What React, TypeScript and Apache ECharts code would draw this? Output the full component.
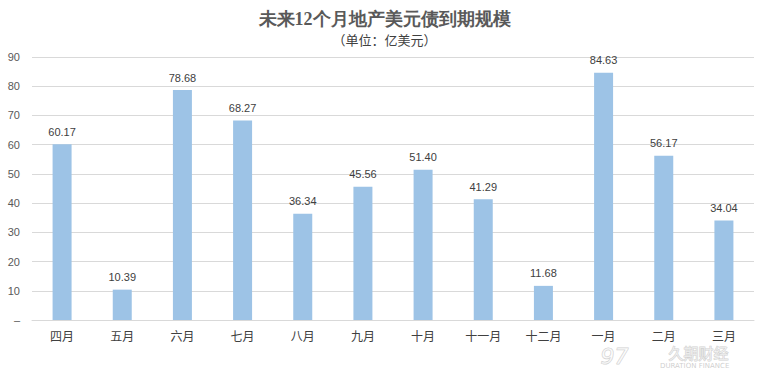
import React, { useEffect, useRef } from "react";
import * as echarts from "echarts";

const categories = ["四月", "五月", "六月", "七月", "八月", "九月", "十月", "十一月", "十二月", "一月", "二月", "三月"];
const values = [60.17, 10.39, 78.68, 68.27, 36.34, 45.56, 51.4, 41.29, 11.68, 84.63, 56.17, 34.04];
const titleText = "未来12个月地产美元债到期规模";
const subtitleText = "（单位：亿美元）";

export default function App() {
  const ref = useRef<HTMLDivElement>(null);
  useEffect(() => {
    if (!ref.current) return;
    const chart = echarts.init(ref.current, null, { renderer: "svg" });
    chart.setOption({
      animation: false,
      backgroundColor: "#ffffff",
      title: {
        text: titleText,
        subtext: subtitleText,
        left: "center",
        top: 5,
        itemGap: 5,
        textStyle: { fontFamily: "serif", fontSize: 18, fontWeight: "bold", color: "#595959" },
        subtextStyle: { fontFamily: "Noto Sans CJK SC", fontSize: 13, color: "#404040" },
      },
      grid: { left: 32, right: 15, top: 57, bottom: 52 },
      xAxis: {
        type: "category",
        data: categories,
        axisTick: { show: false },
        axisLine: { lineStyle: { color: "#d9d9d9" } },
        axisLabel: { color: "#404040", fontSize: 12, margin: 9, fontFamily: "Noto Sans CJK SC" },
      },
      yAxis: {
        type: "value",
        min: 0,
        max: 90,
        interval: 10,
        axisLine: { show: false },
        axisTick: { show: false },
        splitLine: { lineStyle: { color: "#d9d9d9" } },
        axisLabel: {
          color: "#595959",
          fontSize: 11,
          margin: 12,
          formatter: (v: number) => (v === 0 ? "–" : String(v)),
        },
      },
      series: [
        {
          type: "bar",
          data: values,
          barWidth: 19,
          itemStyle: { color: "#9dc3e6" },
          label: {
            show: true,
            position: "top",
            distance: 7,
            color: "#404040",
            fontSize: 11,
            formatter: (p: any) => p.value.toFixed(2),
          },
        },
      ],
      graphic: [
        {
          type: "text",
          left: 668,
          top: 344,
          z: -1,
          style: {
            text: "久期财经",
            fontSize: 15,
            lineHeight: 16,
            fontFamily: "Noto Sans CJK SC",
            fill: "rgba(255,255,255,0.6)",
            stroke: "rgba(175,175,175,0.6)",
            lineWidth: 1,
          },
        },
        {
          type: "text",
          left: 660,
          top: 362,
          z: -1,
          style: {
            text: "DURATION FINANCE",
            fontSize: 7,
            lineHeight: 8,
            fontFamily: "DejaVu Sans",
            fill: "rgba(185,185,185,0.7)",
          },
        },
        {
          type: "text",
          left: 600,
          top: 344,
          z: -1,
          style: {
            text: "97",
            fontSize: 22,
            lineHeight: 24,
            fontStyle: "italic",
            fontFamily: "DejaVu Sans",
            fill: "rgba(255,255,255,0.5)",
            stroke: "rgba(175,175,175,0.6)",
            lineWidth: 1,
          },
        },
      ],
    });
    return () => chart.dispose();
  }, []);
  return <div ref={ref} style={{ width: 769, height: 372, position: "absolute", left: 0, top: 0 }} />;
}
